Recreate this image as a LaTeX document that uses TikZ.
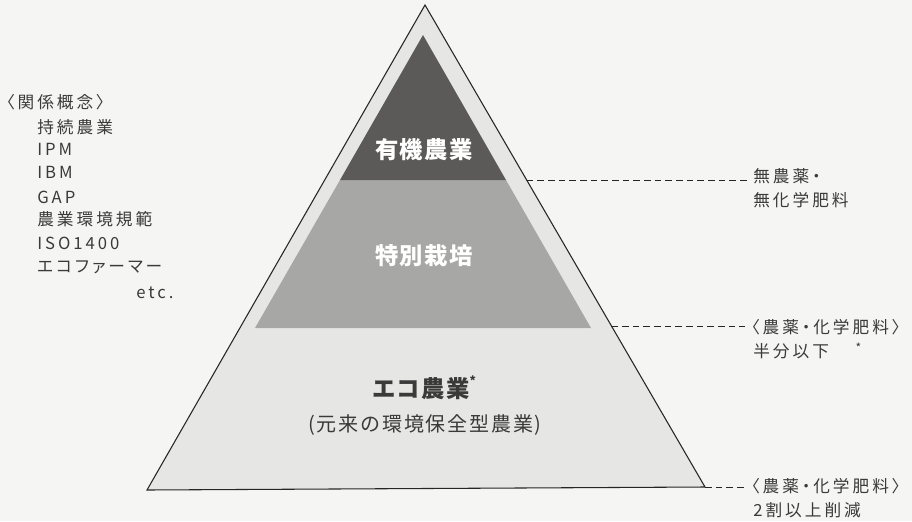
\documentclass[tikz,border=0pt]{standalone}
\usepackage{fontspec}
\setmainfont{Noto Sans CJK JP}
\newfontfamily\jpsp[LetterSpace=18,RawFeature=+palt]{Noto Sans CJK JP}
\newfontfamily\jplab[LetterSpace=6]{Noto Sans CJK JP}
\newfontfamily\jpsub[LetterSpace=9]{Noto Sans CJK JP}
\usetikzlibrary{calc}
\definecolor{bgc}{HTML}{F5F5F3}
\definecolor{outerc}{HTML}{E6E6E4}
\definecolor{midc}{HTML}{A7A7A5}
\definecolor{darkc}{HTML}{5C5A58}
\definecolor{txtc}{HTML}{3A3A3A}
\definecolor{linec}{HTML}{262626}
\tikzset{
  sidetxt/.style={anchor=west, inner xsep=0pt, inner ysep=0pt, text=txtc, font=\jpsp\fontsize{12.5}{14}\selectfont},
  righttxt/.style={anchor=west, inner xsep=4.5pt, inner ysep=0pt, text=txtc, font=\jpsp\fontsize{12.5}{14}\selectfont},
  whitelab/.style={text=white, font=\jplab\bfseries\fontsize{17.5}{20}\selectfont},
  darklab/.style={text=txtc, font=\jplab\bfseries\fontsize{17.5}{20}\selectfont},
  sublab/.style={text=txtc, font=\jpsub\fontsize{15}{18}\selectfont},
  leader/.style={draw=linec, line width=0.6pt, dash pattern=on 5pt off 3pt},
}
\begin{document}
\begin{tikzpicture}[x=0.75pt,y=-0.75pt]
\fill[bgc] (0,0) rectangle (912,521);
\useasboundingbox (0,0) rectangle (912,521);
% outer triangle
\coordinate (A) at (425,5);
\coordinate (BL) at (147,490);
\coordinate (BR) at (705,487);
\fill[outerc] (A) -- (BR) -- (BL) -- cycle;
% inner layers
\coordinate (IA) at (423,35);
\coordinate (DL) at (340,180);
\coordinate (DR) at (506,180);
\coordinate (ML) at (255,328);
\coordinate (MR) at (591,328);
\fill[midc] (DL) -- (DR) -- (MR) -- (ML) -- cycle;
\fill[darkc] (IA) -- (DR) -- (DL) -- cycle;
\draw[linec, line width=0.8pt, line join=miter] (BL) -- (A) -- (BR) -- cycle;
% points on right side for leaders
\coordinate (P1) at ($(A)!0.363!(BR)$);
\coordinate (P2) at ($(A)!0.666!(BR)$);
% centre labels
\node[whitelab] (organic) at (424,150) {有機農業};
\node[whitelab] (special) at (424,256) {特別栽培};
\node[darklab] (eco) at (424,388) {エコ農業\raisebox{0.5em}{\fontsize{9}{9}\selectfont *}};
\node[sublab] (ecosub) at (425,425) {(元来の環境保全型農業)};
% left list
\node[sidetxt] (l0) at (6,102) {〈関係概念〉};
\node[sidetxt] (l1) at (37,127) {持続農業};
\node[sidetxt] (l2) at (37,149) {IPM};
\node[sidetxt] (l3) at (37,172) {IBM};
\node[sidetxt] (l4) at (37,197) {GAP};
\node[sidetxt] (l5) at (37,219) {農業環境規範};
\node[sidetxt] (l6) at (37,243) {ISO1400};
\node[sidetxt] (l7) at (37,267) {エコファーマー};
\node[sidetxt] (l8) at (136,293) {etc.};
% right texts
\node[righttxt] (r1a) at (747,176) {無農薬・};
\node[righttxt] (r1b) at (747,200) {無化学肥料};
\node[righttxt] (r2a) at (745,327) {〈農薬・化学肥料〉};
\node[righttxt] (r2b) at (747,351) {半分以下\hspace{1.6em}\raisebox{0.35em}{\fontsize{9}{9}\selectfont *}};
\node[righttxt] (r3a) at (745,486) {〈農薬・化学肥料〉};
\node[righttxt] (r3b) at (747,510) {2割以上削減};
% leaders
\draw[leader] (P1) -- (P1 -| r1a.west);
\draw[leader] (P2) -- (P2 -| r2a.west);
\draw[leader] (BR) -- (BR -| r3a.west);
\end{tikzpicture}
\end{document}
